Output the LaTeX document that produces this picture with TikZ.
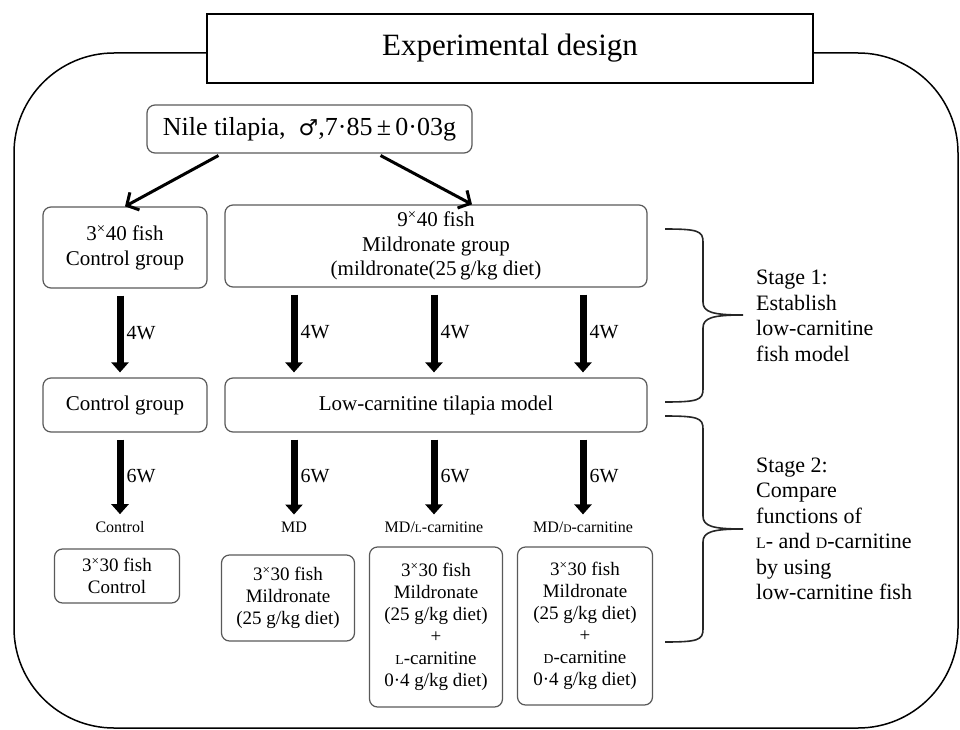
\documentclass[tikz,border=0pt]{standalone}
\usepackage{fontspec}
\setmainfont{Liberation Serif}
\newfontfamily\symfont{DejaVu Sans}
\usetikzlibrary{arrows.meta}

% small capital letters (L-, D-)
\newcommand{\lowcap}[1]{\scalebox{0.72}{#1}}

\begin{document}
\begin{tikzpicture}[x=1pt, y=-1pt,
  outline/.style={draw, line width=1.5pt, rounded corners=100pt},
  titlebox/.style={draw, fill=white, line width=1.4pt, minimum width=606pt,
    minimum height=69pt, font=\fontsize{31}{36}\selectfont},
  box/.style={draw=black!65, line width=1.2pt, rounded corners=8pt, align=center,
    inner sep=2pt, font=\fontsize{21}{24.5}\selectfont},
  smallbox/.style={box, font=\fontsize{19}{22}\selectfont},
  lab/.style={inner sep=2pt, font=\fontsize{16}{18}\selectfont},
  stage/.style={anchor=west, align=left, inner sep=0pt, font=\fontsize{22}{25.5}\selectfont},
  split/.style={line width=3pt, -{Straight Barb[length=9pt,width=20pt]}},
  week/.style={line width=7pt, -{Triangle[length=10pt,width=17pt]},
    shorten <=7pt, shorten >=5pt},
  wlab/.style={midway, right, inner sep=3pt, font=\fontsize{20}{22}\selectfont},
  brace/.style={line width=1.6pt, black!85}
]
\useasboundingbox (0,0) rectangle (960,730);

%%% --- Frame and title --- %%%
\draw[outline] (14,53) rectangle (958,728);
\node[titlebox] (title) at (510,48.5) {Experimental design};

%%% --- Groups --- %%%
\node[box, minimum width=325pt, minimum height=48pt, font=\fontsize{26}{30}\selectfont]
  (nile) at (309.5,129) {Nile tilapia,\ \ {\symfont\fontsize{22}{26}\selectfont ♂},7·85\,±\,0·03g};

\node[box, minimum width=164pt, minimum height=81pt] (ctrlA) at (125,247.5)
  {3\textsuperscript{×}40 fish\\Control group};
\node[box, minimum width=422pt, minimum height=82pt] (mild) at (436,246)
  {9\textsuperscript{×}40 fish\\Mildronate group\\(mildronate(25\,g/kg diet)};

\node[box, minimum width=164pt, minimum height=54pt] (ctrlB) at (125,405) {Control group};
\node[box, minimum width=422pt, minimum height=54pt] (model) at (436,405)
  {Low-carnitine tilapia model};

% labels over the last boxes
\node[lab] (lctrl) at (120,527) {Control};
\node[lab] (lmd) at (294,527) {MD};
\node[lab] (lmdl) at (434,527) {MD/\lowcap{L}-carnitine};
\node[lab] (lmdd) at (583,527) {MD/\lowcap{D}-carnitine};

\node[smallbox, minimum width=125pt, minimum height=54pt] (gctrl) at (117,576)
  {3\textsuperscript{×}30 fish\\Control};
\node[smallbox, minimum width=133pt, minimum height=86pt] (gmd) at (288,598)
  {3\textsuperscript{×}30 fish\\Mildronate\\(25 g/kg diet)};
\node[smallbox, minimum width=133pt, minimum height=160pt] (gmdl) at (436,627)
  {3\textsuperscript{×}30 fish\\Mildronate\\(25 g/kg diet)\\+\\\lowcap{L}-carnitine\\0·4 g/kg diet)};
\node[smallbox, minimum width=135pt, minimum height=158pt] (gmdd) at (585,626)
  {3\textsuperscript{×}30 fish\\Mildronate\\(25 g/kg diet)\\+\\\lowcap{D}-carnitine\\0·4 g/kg diet)};

%%% --- Arrows --- %%%
\draw[split, shorten <=4pt] ([xshift=-87.5pt]nile.south) -- (ctrlA.north);
\draw[split, shorten <=4pt] ([xshift=67.5pt]nile.south) -- ([xshift=36pt]mild.north);

% 4 weeks
\draw[week] (ctrlA.south -| lctrl.north) -- (ctrlB.north -| lctrl.north) node[wlab] {4W};
\foreach \g in {lmd,lmdl,lmdd}
  \draw[week] (mild.south -| \g.north) -- (model.north -| \g.north) node[wlab] {4W};

% 6 weeks
\draw[week] (ctrlB.south -| lctrl.north) -- (lctrl.north) node[wlab] {6W};
\foreach \g in {lmd,lmdl,lmdd}
  \draw[week] (model.south -| \g.north) -- (\g.north) node[wlab] {6W};

%%% --- Stages --- %%%
\draw[brace] (665,229) .. controls (698,229) and (703,231) .. (703,242) -- (703,302)
  .. controls (703,312) and (712,315) .. (743,315)
  .. controls (712,315) and (703,318) .. (703,328) -- (703,389)
  .. controls (703,400) and (698,402) .. (665,402);
\draw[brace] (665,416) .. controls (698,416) and (703,418) .. (703,429) -- (703,516)
  .. controls (703,526) and (712,529) .. (743,529)
  .. controls (712,529) and (703,532) .. (703,542) -- (703,629)
  .. controls (703,640) and (698,642) .. (665,642);

\node[stage] (stage1) at (756,316) {Stage 1:\\Establish\\low-carnitine\\fish model};
\node[stage] (stage2) at (756,529)
  {Stage 2:\\Compare\\functions of\\\lowcap{L}- and \lowcap{D}-carnitine\\by using\\low-carnitine fish};

\end{tikzpicture}
\end{document}
